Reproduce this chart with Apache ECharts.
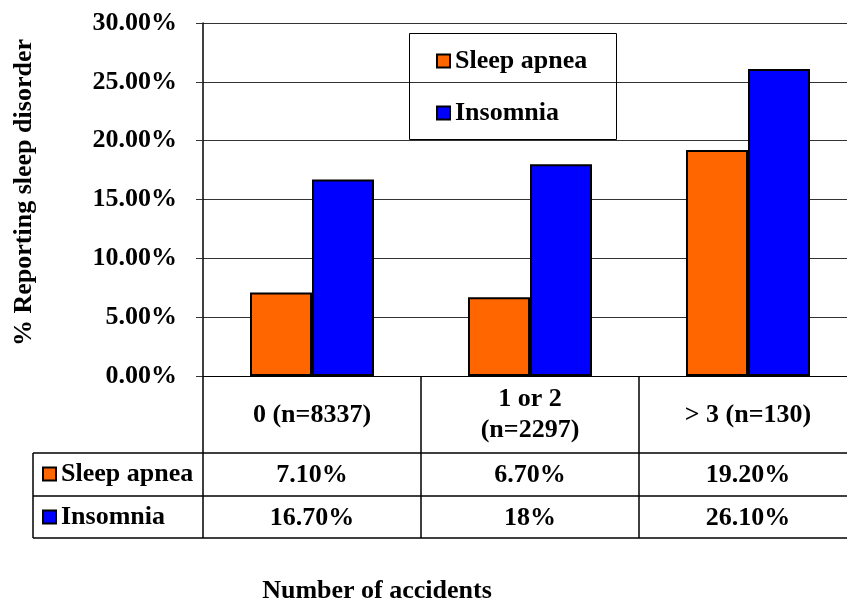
<!DOCTYPE html>
<html>
<head>
<meta charset="utf-8">
<script src="https://cdn.jsdelivr.net/npm/echarts@6/dist/echarts.min.js"></script>
<style>html,body{margin:0;padding:0;background:#fff}#c{width:847px;height:601px}</style>
</head>
<body>
<div id="c"></div>
<script>
const categories = ['0 (n=8337)', '1 or 2\n(n=2297)', '> 3 (n=130)'];
const seriesNames = ['Sleep apnea', 'Insomnia'];
const sleepApnea = [7.1, 6.7, 19.2];
const insomnia = [16.7, 18, 26.1];
const sleepApneaLabels = ['7.10%', '6.70%', '19.20%'];
const insomniaLabels = ['16.70%', '18%', '26.10%'];
const yTicks = [0, 5, 10, 15, 20, 25, 30];

const FONT = 'Liberation Serif';
const FS = 26;
const txt = {fontFamily: FONT, fontWeight: 'bold', fontSize: FS, color: '#000'};

const chart = echarts.init(document.getElementById('c'), null, {renderer: 'canvas'});
const gridLeft = 203, gridTop = 23, gridBottomY = 376;

const hideAxis = {axisLine: {show: false}, axisTick: {show: false}, splitLine: {show: false}};
const legendText = {
  fontFamily: FONT, fontWeight: 'bold', fontSize: FS, color: '#000', lineHeight: 26,
  rich: {t: {fontFamily: FONT, fontWeight: 'bold', fontSize: FS, color: '#000', lineHeight: 26}}
};

chart.setOption({
  animation: false,
  backgroundColor: '#fff',
  title: {
    text: 'Number of accidents', left: 377, top: 578, textAlign: 'center', padding: 0,
    textStyle: Object.assign({}, txt)
  },
  legend: [{
    data: seriesNames, orient: 'vertical', left: 436, top: 48, icon: 'rect', padding: 0,
    itemWidth: 13, itemHeight: 13, itemGap: 26,
    formatter: n => '{t|' + n + '}',
    textStyle: legendText
  }, {
    data: seriesNames, orient: 'vertical', left: 42, top: 461, icon: 'rect', padding: 0,
    itemWidth: 13, itemHeight: 13, itemGap: 17,
    formatter: n => '{t|' + n + '}',
    textStyle: legendText
  }],
  grid: {left: gridLeft, top: gridTop, width: 654, height: gridBottomY - gridTop, outerBoundsMode: 'none', containLabel: false},
  xAxis: [{
    type: 'category', data: categories, position: 'bottom',
    axisLine: {show: true, lineStyle: {color: '#000', width: 1}},
    axisTick: {show: true, length: 162, lineStyle: {color: '#000', width: 1.5}},
    axisLabel: Object.assign({}, txt, {margin: 39, verticalAlign: 'middle', lineHeight: 31, interval: 0})
  }, Object.assign({
    type: 'category', data: sleepApneaLabels, position: 'bottom',
    axisLabel: Object.assign({}, txt, {margin: 99, verticalAlign: 'middle', interval: 0})
  }, hideAxis), Object.assign({
    type: 'category', data: insomniaLabels, position: 'bottom',
    axisLabel: Object.assign({}, txt, {margin: 142, verticalAlign: 'middle', interval: 0})
  }, hideAxis)],
  yAxis: {
    type: 'value', min: yTicks[0], max: yTicks[yTicks.length - 1], interval: yTicks[1] - yTicks[0],
    name: '% Reporting sleep disorder', nameLocation: 'middle', nameGap: 166, nameRotate: 90,
    nameTextStyle: Object.assign({}, txt, {padding: [0, 0, 0, 14]}),
    axisLine: {show: true, lineStyle: {color: '#000', width: 1.5}},
    axisTick: {show: true, length: 7, lineStyle: {color: '#333'}},
    splitLine: {show: true, lineStyle: {color: '#333', width: 1.2}},
    axisLabel: Object.assign({}, txt, {margin: 26, padding: [8, 0, 0, 0], formatter: v => v.toFixed(2) + '%'})
  },
  series: [{
    name: seriesNames[0], type: 'bar', data: sleepApnea, barWidth: 62, barGap: '0%',
    itemStyle: {color: '#FF6600', borderColor: '#000', borderWidth: 2}
  }, {
    name: seriesNames[1], type: 'bar', data: insomnia, barWidth: 62, barGap: '0%',
    itemStyle: {color: '#0000FF', borderColor: '#000', borderWidth: 2}
  }],
  graphic: [
    {type: 'rect', shape: {x: 409.5, y: 33.5, width: 207, height: 106}, style: {fill: 'none', stroke: '#000', lineWidth: 1}, z: 10},
    {type: 'line', shape: {x1: 33, y1: 453, x2: 857, y2: 453}, style: {stroke: '#000', lineWidth: 1.5}},
    {type: 'line', shape: {x1: 33, y1: 496, x2: 857, y2: 496}, style: {stroke: '#000', lineWidth: 1.5}},
    {type: 'line', shape: {x1: 33, y1: 538, x2: 857, y2: 538}, style: {stroke: '#000', lineWidth: 1.5}},
    {type: 'line', shape: {x1: 33, y1: 453, x2: 33, y2: 538}, style: {stroke: '#000', lineWidth: 1.5}}
  ]
});
</script>
</body>
</html>
